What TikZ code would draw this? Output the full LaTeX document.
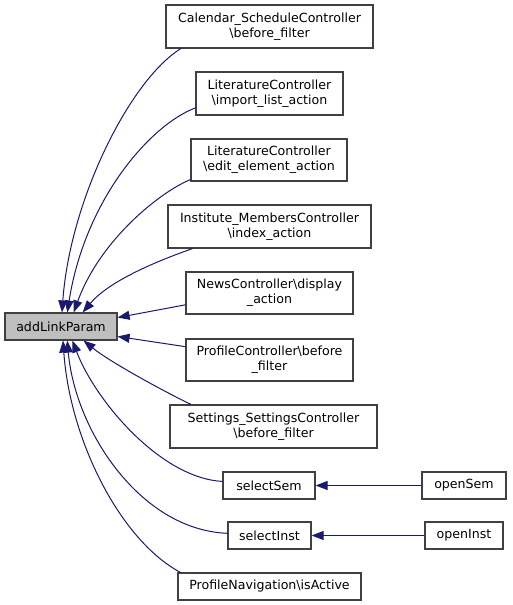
\documentclass[tikz,border=0pt]{standalone}
\usepackage{fontspec}
\setmainfont{DejaVu Sans}
\usepackage{tikz}
\usetikzlibrary{arrows.meta}
\definecolor{edgeblue}{RGB}{25,25,112}
\definecolor{boxline}{RGB}{64,64,64}
\definecolor{hilite}{RGB}{191,191,191}
\tikzset{
  fnbox/.style={rectangle, draw=boxline, fill=white, align=center,
    inner sep=0pt, line width=1.2pt, font=\fontsize{12.6}{15}\selectfont},
  curbox/.style={fnbox, fill=hilite},
  callarrow/.style={-{Triangle[length=12pt, width=9pt]}, line width=1pt, color=edgeblue}
}
\begin{document}
\begin{tikzpicture}[x=1pt, y=-1pt]
  \useasboundingbox (0,0) rectangle (512,605);

  % Function being called
  \node[curbox, minimum width=112pt, minimum height=27pt] (add) at (61,326.5) {addLinkParam};

  % Callers
  \node[fnbox, minimum width=207pt, minimum height=43pt] (cal) at (269.5,26.5) {Calendar\_ScheduleController\\\textbackslash before\_filter};
  \node[fnbox, minimum width=147pt, minimum height=43pt] (imp) at (269.5,93.5) {LiteratureController\\\textbackslash import\_list\_action};
  \node[fnbox, minimum width=156pt, minimum height=42pt] (edit) at (269,160) {LiteratureController\\\textbackslash edit\_element\_action};
  \node[fnbox, minimum width=203pt, minimum height=43pt] (inst) at (269.5,226.5) {Institute\_MembersController\\\textbackslash index\_action};
  \node[fnbox, minimum width=167pt, minimum height=42pt] (news) at (269.5,293) {NewsController\textbackslash display\\\_action};
  \node[fnbox, minimum width=167pt, minimum height=42pt] (prof) at (269.5,360) {ProfileController\textbackslash before\\\_filter};
  \node[fnbox, minimum width=207pt, minimum height=43pt] (sett) at (273.5,426.5) {Settings\_SettingsController\\\textbackslash before\_filter};
  \node[fnbox, minimum width=92pt, minimum height=27pt] (selsem) at (269,485.5) {selectSem};
  \node[fnbox, minimum width=83pt, minimum height=27pt] (selinst) at (269.5,535.5) {selectInst};
  \node[fnbox, minimum width=183pt, minimum height=27pt] (profnav) at (269.5,586.5) {ProfileNavigation\textbackslash isActive};

  % Second level callers
  \node[fnbox, minimum width=84pt, minimum height=27pt] (opensem) at (464,485.5) {openSem};
  \node[fnbox, minimum width=78pt, minimum height=27pt] (openinst) at (464,535.5) {openInst};

  % Call edges
  \draw[callarrow] (cal.194) .. controls (130,80) and (70,200) .. (add.86);
  \draw[callarrow] (imp.191) .. controls (150,125) and (85,200) .. (add.66);
  \draw[callarrow] (edit.194) .. controls (160,192) and (100,240) .. (add.48);
  \draw[callarrow] (inst.196) .. controls (160,260) and (110,280) .. (add.33);
  \draw[callarrow] (news.188) -- (add.9);
  \draw[callarrow] (prof.171) -- (add.350);
  \draw[callarrow] (sett.165) .. controls (165,392) and (110,362) .. (add.328);
  \draw[callarrow] (selsem.175) .. controls (160,478) and (95,400) .. (add.309);
  \draw[callarrow] (selinst.177) .. controls (140,530) and (75,430) .. (add.294);
  \draw[callarrow] (profnav.171) .. controls (120,540) and (70,440) .. (add.278);
  \draw[callarrow] (opensem) -- (selsem);
  \draw[callarrow] (openinst) -- (selinst);
\end{tikzpicture}
\end{document}
